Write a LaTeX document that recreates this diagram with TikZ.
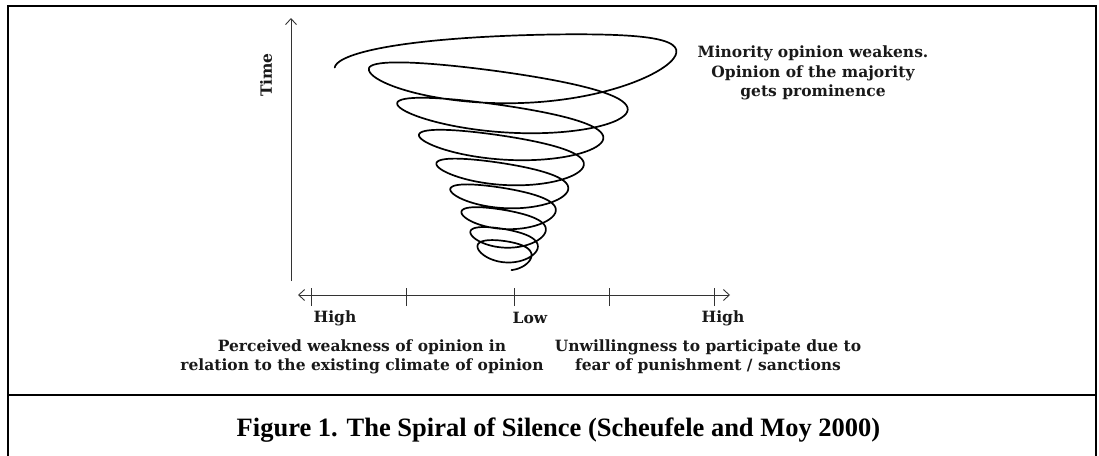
\documentclass[tikz,border=0pt]{standalone}
\usepackage{fontspec}
\setmainfont{Liberation Serif}
\newfontfamily\labelfam{DejaVu Serif}
\usetikzlibrary{arrows.meta}

\tikzset{
  frameline/.style={line width=2pt, black},
  axisline/.style={line width=0.9pt, black!80},
  spiralline/.style={line width=1.7pt, black, line join=round, line cap=round},
  axislabel/.style={font=\labelfam\bfseries\fontsize{15.5}{19.3}\selectfont, text=black!90, inner sep=0pt},
  captionlabel/.style={font=\bfseries\fontsize{26.5}{30}\selectfont, inner sep=0pt}
}

\begin{document}
\begin{tikzpicture}[x=1pt, y=-1pt,
    declare function={
      sa(\t)=170*exp(-0.22314*\t)*(1+0.12*exp(-(\t-0.5)*(\t-0.5)/0.09));
      ss(\t)=0.1-0.22*max(0,1-\t)-0.06*exp(-(\t-0.5)*(\t-0.5)/0.04);
      sb(\t)=10+17*exp(-0.22314*\t);
      scy(\t)=47+36*\t-1.3*\t*\t-6*max(0,\t-7.5);
      sx(\t)=506-sa(\t)*cos(360*\t);
      sy(\t)=scy(\t)-ss(\t)*sa(\t)*cos(360*\t)-sb(\t)*(1-0.23*sin(360*\t))*sin(360*\t);
    }]
  \useasboundingbox (0,0) rectangle (1099,455);

  % frame and divider
  \draw[frameline] (8,458) -- (8,6) -- (1096,6) -- (1096,458);
  \draw[frameline] (8,395) -- (1096,395);

  % time axis
  \coordinate (ybot) at (291,281);
  \coordinate (ytop) at (291,18);
  \draw[axisline, -{Straight Barb[length=6pt,width=11pt]}] (ybot) -- (ytop);
  \node[axislabel, rotate=90] (time) at (266,75) {Time};

  % opinion axis with ticks
  \coordinate (xleft) at (298,295);
  \coordinate (xright) at (730,295);
  \draw[axisline, {Straight Barb[length=6pt,width=11pt]}-{Straight Barb[length=6pt,width=11pt]}] (xleft) -- (xright);
  \foreach \x/\n in {311/tka, 406/tkb, 514/tkc, 609/tkd, 714/tke} {
    \coordinate (\n) at (\x,295);
    \draw[axisline] ([yshift=-11pt]\n) -- ([yshift=7pt]\n);
  }

  \node[axislabel] (highleft) at (335,318) {High};
  \node[axislabel] (low) at (530,318) {Low};
  \node[axislabel] (highright) at (723,318) {High};

  \node[axislabel, align=center] (weakness) at (362,357) {Perceived weakness of opinion in\\relation to the existing climate of opinion};
  \node[axislabel, align=center] (unwilling) at (708,357) {Unwillingness to participate due to\\fear of punishment / sanctions};
  \node[axislabel, align=center] (minority) at (813,73) {Minority opinion weakens.\\Opinion of the majority\\gets prominence};

  % the spiral
  \draw[spiralline] plot[domain=0:8.72, samples=700, smooth] ({sx(\x)}, {sy(\x)});

  \node[captionlabel, anchor=base] (caption) at (558.5,436) {Figure 1. The Spiral of Silence (Scheufele and Moy 2000)};
\end{tikzpicture}
\end{document}
